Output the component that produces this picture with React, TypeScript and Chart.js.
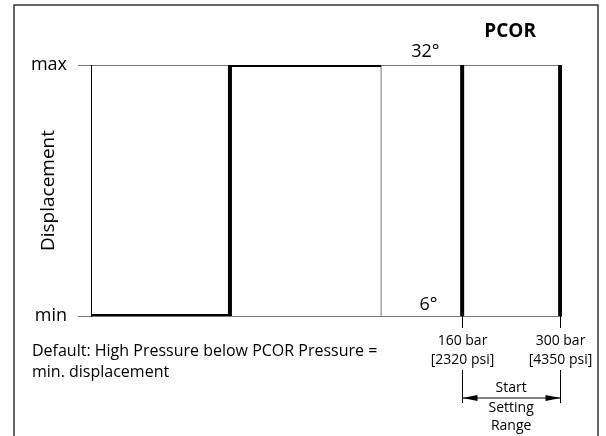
import React, { useEffect, useRef } from "react";
import { Chart, registerables } from "chart.js";

Chart.register(...registerables);

// Horizontal axis is a relative pressure position (0 = left frame, 100 = right end).
const yTickLabels = ["min", "max"];
const responseX = [0, 29.5, 29.5, 61.6];
const responseY = [0, 0, 1, 1];
const frameRightX = 61.6;
const settingRangeX = [78.8, 99.6];
const settingRangeBar = ["160 bar", "300 bar"];
const settingRangePsi = ["[2320 psi]", "[4350 psi]"];
const angleX = 71;
const angleLabels = ["6°", "32°"];
const noteLines = ["Default: High Pressure below PCOR Pressure =", "min. displacement"];
const rangeCaption = ["Start", "Setting", "Range"];

const FONT = "'Open Sans', 'Noto Sans', sans-serif";

const pts = (xs: number[], ys: number[]) => xs.map((x, i) => ({ x, y: ys[i] }));

const annotations = {
  id: "pcorAnnotations",
  beforeDraw(chart: any) {
    const { ctx } = chart;
    ctx.save();
    ctx.strokeStyle = "#333";
    ctx.lineWidth = 1.5;
    ctx.strokeRect(14, 5, 584, 450);
    ctx.restore();
  },
  afterDraw(chart: any) {
    const { ctx, scales } = chart;
    const xs = scales.x;
    const ys = scales.y;
    const yMin = ys.getPixelForValue(0);
    const yMax = ys.getPixelForValue(1);
    ctx.save();
    ctx.fillStyle = "#000";
    ctx.strokeStyle = "#000";
    ctx.textBaseline = "middle";

    // title
    ctx.font = `bold 19px ${FONT}`;
    ctx.textAlign = "center";
    const left = xs.getPixelForValue(settingRangeX[0]);
    const right = xs.getPixelForValue(settingRangeX[1]);
    const mid = (left + right) / 2;
    ctx.fillText("PCOR", mid - 1, 32);

    // angle labels
    ctx.font = `18px ${FONT}`;
    const ax = xs.getPixelForValue(angleX);
    ctx.fillText(angleLabels[1], ax, yMax - 13);
    ctx.fillText(angleLabels[0], ax + 3, yMin - 11);

    // pressure labels and extension lines
    ctx.font = `14px ${FONT}`;
    ctx.lineWidth = 1;
    settingRangeX.forEach((v, i) => {
      const px = Math.round(xs.getPixelForValue(v)) + 0.5;
      ctx.fillText(settingRangeBar[i], px, yMin + 25);
      ctx.fillText(settingRangePsi[i], px, yMin + 44);
      ctx.beginPath();
      ctx.moveTo(px, yMin);
      ctx.lineTo(px, yMin + 12);
      ctx.moveTo(px, yMin + 54);
      ctx.lineTo(px, yMin + 87);
      ctx.stroke();
    });

    // setting range dimension arrow
    const ay = yMin + 82;
    const lx = Math.round(left) + 0.5;
    const rx = Math.round(right) + 0.5;
    ctx.beginPath();
    ctx.moveTo(lx, ay);
    ctx.lineTo(rx, ay);
    ctx.stroke();
    const head = (tip: number, dir: number) => {
      ctx.beginPath();
      ctx.moveTo(tip, ay);
      ctx.lineTo(tip + dir * 15, ay - 3);
      ctx.lineTo(tip + dir * 15, ay + 3);
      ctx.closePath();
      ctx.fill();
    };
    head(lx, 1);
    head(rx, -1);
    ctx.fillText(rangeCaption[0], mid, ay - 10);
    ctx.fillText(rangeCaption[1], mid, ay + 10);
    ctx.fillText(rangeCaption[2], mid, ay + 28);

    // default-state note
    ctx.font = `16px ${FONT}`;
    ctx.textAlign = "left";
    ctx.fillText(noteLines[0], 32, yMin + 35);
    ctx.fillText(noteLines[1], 32, yMin + 56);
    ctx.restore();
  },
};

export default function App() {
  const ref = useRef<HTMLCanvasElement>(null);
  useEffect(() => {
    if (!ref.current) return;
    const thick = {
      showLine: true,
      pointRadius: 0,
      borderColor: "#000",
      borderWidth: 4,
      borderJoinStyle: "miter" as const,
      borderCapStyle: "butt" as const,
      fill: false,
    };
    const chart = new Chart(ref.current, {
      type: "scatter",
      data: {
        datasets: [
          { ...thick, label: "Displacement", data: pts(responseX, responseY) },
          {
            ...thick,
            label: "Frame",
            borderWidth: 1,
            borderColor: "#777",
            data: pts([frameRightX, frameRightX], [0, 1]),
          },
          ...settingRangeX.map((v, i) => ({
            ...thick,
            label: settingRangeBar[i],
            data: pts([v, v], [0, 1]),
          })),
        ],
      },
      options: {
        animation: false,
        responsive: false,
        layout: { padding: { top: 65, right: 44, bottom: 120, left: 0 } },
        plugins: { legend: { display: false }, tooltip: { enabled: false } },
        scales: {
          x: { type: "linear", min: 0, max: 100, display: false },
          y: {
            type: "linear",
            min: 0,
            max: 1,
            afterBuildTicks: (s: any) => {
              s.ticks = [{ value: 0 }, { value: 1 }];
            },
            afterFit: (s: any) => {
              s.width = 91;
            },
            ticks: {
              callback: (v: any) => yTickLabels[v] ?? "",
              padding: 11,
              color: "#000",
              font: { family: FONT, size: 18 },
            },
            grid: { color: "#777", lineWidth: 1, tickLength: 13 },
            border: { display: true, color: "#000", width: 1 },
            title: {
              display: true,
              text: "Displacement",
              color: "#000",
              font: { family: FONT, size: 19 },
              padding: { top: 37, bottom: 0 },
            },
          },
        },
      },
      plugins: [annotations],
    });
    return () => chart.destroy();
  }, []);
  return (
    <div style={{ position: "absolute", left: 0, top: 0, width: 606, height: 436, background: "#fff" }}>
      <canvas ref={ref} width={606} height={436} />
    </div>
  );
}
